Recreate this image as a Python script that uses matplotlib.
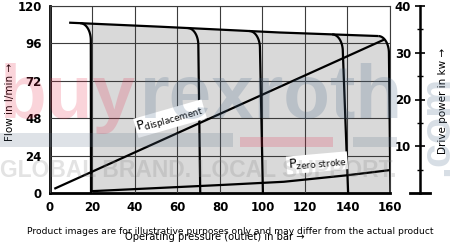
"""Pump characteristic: flow and drive power over operating pressure."""
import numpy as np
import matplotlib
matplotlib.use("Agg")
import matplotlib.pyplot as plt
from matplotlib.patches import Rectangle

W, H = 456, 242

# max flow line (bar, l/min)
top_p = [9, 52, 108, 157]
top_q = [109.3, 106.7, 103.0, 100.6]

# pressure cut-off branches: x at top of the vertical, x at zero flow
cut_top = [19.2, 69.8, 98.8, 137.8, 159.5]
cut_bot = [19.3, 70.7, 100.2, 140.3, 160.2]

# drive power (kW)
disp_p = [2.5, 156.7]
disp_kw = [1.0, 32.7]
zero_p = [20, 50, 80, 110, 140, 160]
zero_kw = [0.4, 1.05, 1.7, 2.4, 3.8, 4.9]

x_ticks = [0, 20, 40, 60, 80, 100, 120, 140, 160]
y_ticks = [0, 24, 48, 72, 96, 120]
kw_ticks = [10, 20, 30, 40]
kw_minor = [5, 15, 25, 35]

RX, RY = 5.0, 11.0  # corner rounding of the cut-off branches


def top_flow(p):
    return np.interp(p, top_p, top_q)


def branch(c_top, c_bot):
    """Corner from the max flow line into the cut-off vertical."""
    p0 = c_top - RX
    q0 = top_flow(p0)
    t = np.linspace(0, np.pi / 2, 20)
    px = p0 + RX * np.sin(t)
    qy = (q0 - RY) + RY * np.cos(t)
    return np.r_[px, c_bot], np.r_[qy, 0.0]


def px2fig(x, y):
    return x / W, 1 - y / H


fig = plt.figure(figsize=(W / 100, H / 100), dpi=100)
ax = fig.add_axes([50 / W, 1 - 193 / H, 340 / W, 187 / H])
ax.set_xlim(0, 160)
ax.set_ylim(0, 120)

# shaded working area
lx, ly = branch(cut_top[0], cut_bot[0])
rx_, ry_ = branch(cut_top[-1], cut_bot[-1])
mid_p = [p for p in top_p if lx[0] < p < rx_[0]]
fill_x = np.r_[lx[::-1], mid_p, rx_]
fill_y = np.r_[ly[::-1], top_flow(mid_p), ry_]
ax.fill(fill_x, fill_y, color="#d9d9d9", lw=0, zorder=1)

# max flow line and cut-off branches
line_x = [p for p in top_p if p < rx_[0]] + [rx_[0]]
ax.plot(line_x, top_flow(line_x), color="black", lw=1.6, zorder=3,
        solid_capstyle="butt")
for ct, cb in zip(cut_top, cut_bot):
    bx, by = branch(ct, cb)
    ax.plot(bx, by, color="black", lw=1.6, zorder=3, solid_capstyle="butt")

ax.set_xticks(x_ticks)
ax.set_yticks(y_ticks)
ax.grid(True, color="#3c3c3c", lw=0.8)
ax.set_axisbelow(False)
ax.tick_params(length=0, labelsize=8.5, pad=6)
plt.setp(ax.get_xticklabels() + ax.get_yticklabels(), fontweight="bold")
for s in ("left", "bottom"):
    ax.spines[s].set_linewidth(2.0)
for s in ("top", "right"):
    ax.spines[s].set_linewidth(0.8)
    ax.spines[s].set_color("#3c3c3c")

# power lines on a hidden twin (0..40 kW)
axp = ax.twinx()
axp.set_ylim(0, 40)
axp.axis("off")
axp.plot(disp_p, disp_kw, color="black", lw=1.6, zorder=3)
axp.plot(zero_p, zero_kw, color="black", lw=1.6, zorder=3)
box = dict(facecolor="white", edgecolor="none", pad=1.0)
axp.text(41, 13.9, r"$\mathrm{P}_{\mathrm{displacement}}$", fontsize=9,
         rotation=16, rotation_mode="anchor", ha="left", va="center", bbox=box)
axp.text(112, 5.9, r"$\mathrm{P}_{\mathrm{zero\ stroke}}$", fontsize=9,
         rotation=5, rotation_mode="anchor", ha="left", va="center", bbox=box)

# detached power axis on the right
axr = fig.add_axes([410 / W, 1 - 193 / H, 20 / W, 187 / H])
axr.set_ylim(0, 40)
axr.patch.set_visible(False)
axr.set_xticks([])
for s in ("top", "bottom", "right"):
    axr.spines[s].set_visible(False)
axr.spines["left"].set_position(("axes", 0.5))
axr.spines["left"].set_linewidth(1.8)
axr.set_yticks(kw_ticks)
axr.set_yticks(kw_minor, minor=True)
axr.tick_params(which="major", direction="inout", length=7, width=1.2,
                labelsize=8.5, pad=3)
axr.tick_params(which="minor", direction="inout", length=5, width=1.0)
plt.setp(axr.get_yticklabels(), fontweight="bold")
axr.axhline(0, color="black", lw=2.0, clip_on=False)

# axis titles
fig.text(*px2fig(10, 102), "Flow in l/min →", rotation=90, fontsize=7.5,
         ha="center", va="center")
fig.text(*px2fig(443, 101), "Drive power in kw →", rotation=90, fontsize=7.5,
         ha="center", va="center")
fig.text(*px2fig(215, 237), "Operating pressure (outlet) in bar →",
         fontsize=7.2, ha="center", va="center")

# watermark
wm = dict(family="Liberation Sans", fontweight="bold", zorder=10)
fig.text(*px2fig(0, 118), "buy", fontsize=55, color="#e8294a", alpha=0.2,
         va="baseline", ha="left", **wm)
fig.text(*px2fig(140, 118), "rexroth", fontsize=55, color="#4a6a8a",
         alpha=0.22, va="baseline", ha="left", **wm)
fig.text(*px2fig(437, 176), ".com", fontsize=31, color="#4a6a8a", alpha=0.22,
         rotation=90, ha="center", va="bottom", **wm)
fig.text(*px2fig(0, 177), "GLOBAL BRAND. LOCAL SUPPORT.", fontsize=16.5,
         color="#808080", alpha=0.22, va="baseline", ha="left", **wm)
for x0, y0, w, h, c in [(0, 133, 233, 14, "#5a7088"),
                        (240, 137, 93, 10, "#e8294a"),
                        (353, 137, 44, 10, "#5a7088")]:
    fig.patches.append(Rectangle(px2fig(x0, y0 + h), w / W, h / H,
                                 transform=fig.transFigure, color=c,
                                 alpha=0.2, lw=0, zorder=10))

fig.text(*px2fig(230.5, 231),
         "Product images are for illustrative purposes only and may differ "
         "from the actual product", fontsize=6.6, ha="center", va="center",
         zorder=11)

fig.savefig("out.png", dpi=100)
